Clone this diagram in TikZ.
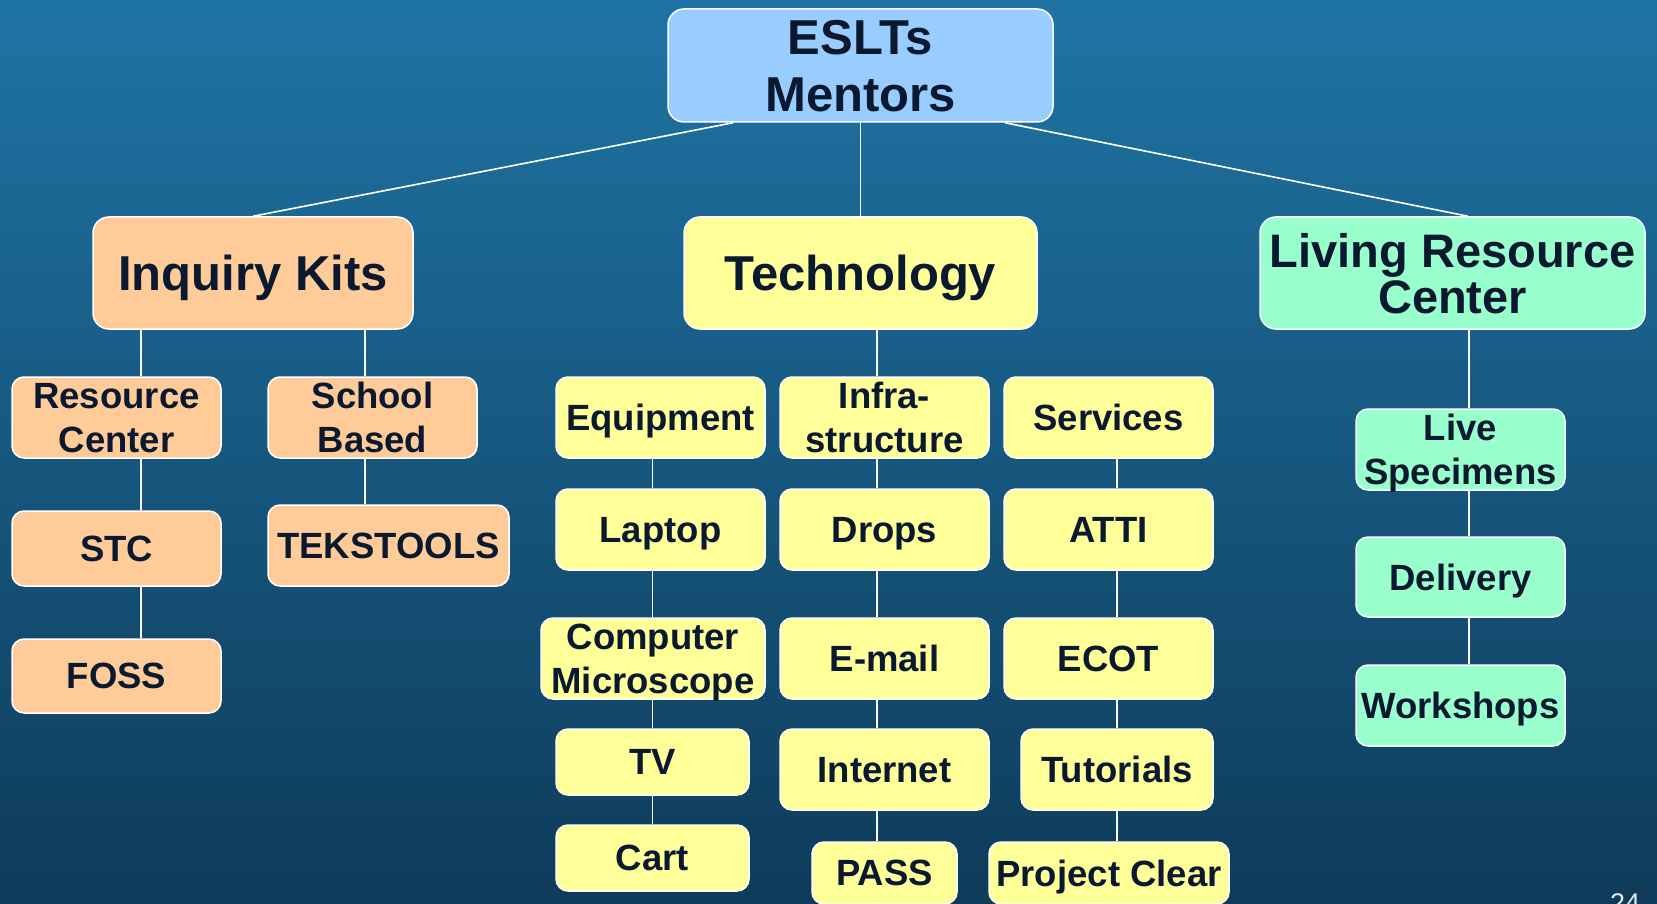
\documentclass[tikz,border=0pt]{standalone}
\usepackage{fontspec}
\setmainfont{Liberation Sans}
\definecolor{ink}{RGB}{10,24,48}
\definecolor{bgtop}{RGB}{31,116,165}
\definecolor{bgbot}{RGB}{14,59,89}
\definecolor{rootfill}{HTML}{99CCFF}
\definecolor{kitfill}{HTML}{FFCC99}
\definecolor{techfill}{HTML}{FFFF99}
\definecolor{livefill}{HTML}{99FFCC}
\begin{document}
\begin{tikzpicture}[x=1pt,y=-1pt,
  box/.style={draw=white, line width=1.5pt, rounded corners=12pt, inner sep=0pt,
    align=center, text=ink, text depth=0pt,
    font=\bfseries\fontsize{36.5}{44}\selectfont},
  bigbox/.style={box, rounded corners=16pt, font=\bfseries\fontsize{49}{57}\selectfont},
  kit/.style={box, fill=kitfill},
  tec/.style={box, fill=techfill},
  liv/.style={box, fill=livefill},
  link/.style={draw=white, line width=1.6pt}]
\useasboundingbox (0,0) rectangle (1657,904);
\clip (0,0) rectangle (1657,904);
\shade[top color=bgtop, bottom color=bgbot] (0,0) rectangle (1657,904);

% top level
\node[bigbox, fill=rootfill, minimum width=385pt, minimum height=113pt] (eslt) at (860.5,65.5) {ESLTs\\Mentors};

% second level
\node[bigbox, fill=kitfill, minimum width=320pt, minimum height=112pt] (inq) at (253,273) {Inquiry Kits};
\node[bigbox, fill=techfill, minimum width=353pt, minimum height=112pt] (tech) at (860.5,273) {Technology};
\node[bigbox, fill=livefill, minimum width=385pt, minimum height=112pt,
  font=\bfseries\fontsize{47}{46}\selectfont] (lrc) at (1452.5,273) {Living Resource\\Center};

% inquiry kits branch
\node[kit, minimum width=209pt, minimum height=81pt] (rc) at (116.5,417.5) {Resource\\Center};
\node[kit, minimum width=209pt, minimum height=75pt] (stc) at (116.5,548.5) {STC};
\node[kit, minimum width=209pt, minimum height=74pt] (foss) at (116.5,676) {FOSS};
\node[kit, minimum width=209pt, minimum height=81pt] (sb) at (372.5,417.5) {School\\Based};
\node[kit, minimum width=241pt, minimum height=81pt] (teks) at (388.5,545.5) {TEKSTOOLS};

% technology branch: equipment column
\node[tec, minimum width=209pt, minimum height=81pt] (equip) at (660.5,417.5) {Equipment};
\node[tec, minimum width=209pt, minimum height=81pt] (laptop) at (660.5,529.5) {Laptop};
\node[tec, minimum width=224pt, minimum height=81pt] (cm) at (653,658.5) {Computer\\Microscope};
\node[tec, minimum width=193pt, minimum height=66pt] (tv) at (652.5,762) {TV};
\node[tec, minimum width=193pt, minimum height=66pt] (cart) at (652.5,858) {Cart};

% technology branch: infrastructure column
\node[tec, minimum width=209pt, minimum height=81pt] (infra) at (884.5,417.5) {Infra-\\structure};
\node[tec, minimum width=209pt, minimum height=81pt] (drops) at (884.5,529.5) {Drops};
\node[tec, minimum width=209pt, minimum height=81pt] (email) at (884.5,658.5) {E-mail};
\node[tec, minimum width=209pt, minimum height=81pt] (internet) at (884.5,769.5) {Internet};
\node[tec, minimum width=145pt, minimum height=62pt] (pass) at (884.5,873) {PASS};

% technology branch: services column
\node[tec, minimum width=209pt, minimum height=81pt] (serv) at (1108.5,417.5) {Services};
\node[tec, minimum width=209pt, minimum height=81pt] (atti) at (1108.5,529.5) {ATTI};
\node[tec, minimum width=209pt, minimum height=81pt] (ecot) at (1108.5,658.5) {ECOT};
\node[tec, minimum width=192pt, minimum height=81pt] (tut) at (1117,769.5) {Tutorials};
\node[tec, minimum width=240pt, minimum height=62pt] (pc) at (1109,873) {Project Clear};

% living resource branch
\node[liv, minimum width=209pt, minimum height=81pt] (live) at (1460.5,449.5) {Live\\Specimens};
\node[liv, minimum width=209pt, minimum height=80pt] (deliv) at (1460.5,577) {Delivery};
\node[liv, minimum width=209pt, minimum height=81pt] (work) at (1460.5,705.5) {Workshops};

% slide number, running off the lower edge
\node[anchor=base, text=white!88!bgbot, font=\fontsize{27}{30}\selectfont] (pagenum) at (1625,912) {24};

% column positions of the vertical connectors
\coordinate (cInq) at (141,0);
\coordinate (cSch) at (365,0);
\coordinate (cTec) at (877,0);
\coordinate (cEqu) at (652.5,0);
\coordinate (cSrv) at (1117,0);
\coordinate (cLiv) at (1469,0);

% connectors
\draw[link] ([xshift=-127.5pt]eslt.south) -- (inq.north);
\draw[link] (eslt.south) -- (tech.north);
\draw[link] ([xshift=144.5pt]eslt.south) -- ([xshift=15.5pt]lrc.north);

\draw[link] (inq.south -| cInq) -- (rc.north -| cInq);
\draw[link] (rc.south -| cInq) -- (stc.north -| cInq);
\draw[link] (stc.south -| cInq) -- (foss.north -| cInq);
\draw[link] (inq.south -| cSch) -- (sb.north -| cSch);
\draw[link] (sb.south -| cSch) -- (teks.north -| cSch);

\draw[link] (tech.south -| cTec) -- (infra.north -| cTec);
\draw[link] (equip.south -| cEqu) -- (laptop.north -| cEqu);
\draw[link] (laptop.south -| cEqu) -- (cm.north -| cEqu);
\draw[link] (cm.south -| cEqu) -- (tv.north -| cEqu);
\draw[link] (tv.south -| cEqu) -- (cart.north -| cEqu);
\draw[link] (infra.south -| cTec) -- (drops.north -| cTec);
\draw[link] (drops.south -| cTec) -- (email.north -| cTec);
\draw[link] (email.south -| cTec) -- (internet.north -| cTec);
\draw[link] (internet.south -| cTec) -- (pass.north -| cTec);
\draw[link] (serv.south -| cSrv) -- (atti.north -| cSrv);
\draw[link] (atti.south -| cSrv) -- (ecot.north -| cSrv);
\draw[link] (ecot.south -| cSrv) -- (tut.north -| cSrv);
\draw[link] (tut.south -| cSrv) -- (pc.north -| cSrv);

\draw[link] (lrc.south -| cLiv) -- (live.north -| cLiv);
\draw[link] (live.south -| cLiv) -- (deliv.north -| cLiv);
\draw[link] (deliv.south -| cLiv) -- (work.north -| cLiv);
\end{tikzpicture}
\end{document}
